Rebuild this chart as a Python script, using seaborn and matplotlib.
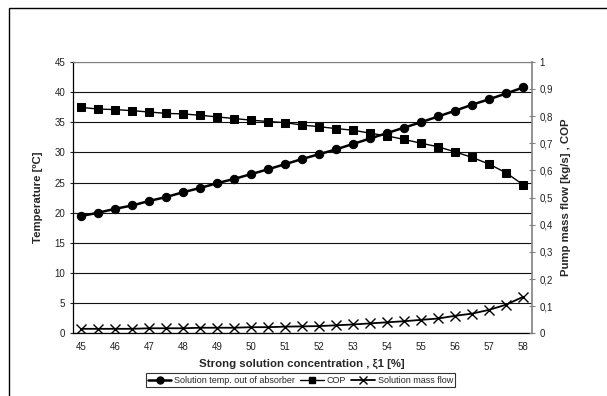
import matplotlib
matplotlib.use("Agg")
import matplotlib.pyplot as plt
import seaborn as sns
import numpy as np
import pandas as pd
from matplotlib.lines import Line2D
from matplotlib.patches import Rectangle

# ---- data ----
concentration = [45, 45.5, 46, 46.5, 47, 47.5, 48, 48.5, 49, 49.5, 50, 50.5, 51, 51.5,
                 52, 52.5, 53, 53.5, 54, 54.5, 55, 55.5, 56, 56.5, 57, 57.5, 58]
temperature = [19.45, 20.0, 20.65, 21.2, 21.95, 22.6, 23.4, 24.1, 24.9, 25.6, 26.4, 27.2, 28.05,
               28.9, 29.7, 30.5, 31.4, 32.3, 33.2, 34.1, 35.0, 35.95, 36.9, 37.9, 38.8, 39.75, 40.75]
cop = [0.832, 0.826, 0.824, 0.820, 0.815, 0.810, 0.808, 0.803, 0.797, 0.791, 0.785, 0.780, 0.776,
       0.767, 0.761, 0.754, 0.748, 0.737, 0.727, 0.714, 0.700, 0.687, 0.668, 0.648, 0.623, 0.591, 0.547]
mass_flow = [0.017, 0.017, 0.017, 0.017, 0.019, 0.019, 0.019, 0.021, 0.021, 0.021, 0.023, 0.023, 0.025,
             0.026, 0.027, 0.030, 0.033, 0.037, 0.041, 0.045, 0.050, 0.055, 0.065, 0.073, 0.087, 0.106, 0.135]
x_tick_labels = ["45", "46", "47", "48", "49", "50", "51", "52", "53", "54", "55", "56", "57", "58"]
left_ticks = [0, 5, 10, 15, 20, 25, 30, 35, 40, 45]
right_ticks = [0, 0.1, 0.2, 0.3, 0.4, 0.5, 0.6, 0.7, 0.8, 0.9, 1]

sns.set_style("white")
plt.rcParams['font.family'] = ['Liberation Sans', 'DejaVu Sans']

df = pd.DataFrame({"idx": np.arange(len(concentration)),
                   "temp": temperature, "cop": cop, "mass": mass_flow})

fig = plt.figure(figsize=(6.07, 3.96), dpi=100)
ax = fig.add_axes([0.12, 0.158, 0.756, 0.686])
ax2 = ax.twinx()

sns.lineplot(data=df, x="idx", y="temp", ax=ax, color="black", linewidth=1.8,
             marker="o", markersize=6, markeredgecolor="black", zorder=5)
sns.lineplot(data=df, x="idx", y="cop", ax=ax2, color="black", linewidth=1.0,
             marker="s", markersize=6, markeredgecolor="black", zorder=5)
sns.lineplot(data=df, x="idx", y="mass", ax=ax2, color="black", linewidth=1.3,
             marker="x", markersize=7, markeredgewidth=1.0, markeredgecolor="black", zorder=5)

n = len(concentration)
ax.set_xlim(-0.5, n - 0.5)
ax.set_ylim(0, 45)
ax2.set_ylim(0, 1)

# x ticks: crossing ticks between categories, labels every 2 categories
ax.set_xticks(np.arange(-0.5, n, 1.0))
ax.set_xticklabels([])
ax.set_xticks(np.arange(0, n, 2), minor=True)
ax.set_xticklabels(x_tick_labels, minor=True)
ax.tick_params(axis="x", which="major", direction="inout", length=5, width=0.8, color="black")
ax.tick_params(axis="x", which="minor", length=0, pad=6, labelsize=7, labelcolor="#222222")

ax.set_yticks(left_ticks)
ax.set_yticklabels([str(v) for v in left_ticks])
ax.tick_params(axis="y", direction="inout", length=5, width=0.8, labelsize=7,
               labelcolor="#222222", pad=3, left=True)
ax.yaxis.grid(True, color="#111111", linewidth=0.8)
ax.set_axisbelow(True)

ax2.set_yticks(right_ticks)
ax2.set_yticklabels(["0" if v == 0 else ("1" if v == 1 else f"{v:.1f}".replace(".", ",")) for v in right_ticks])
ax2.tick_params(axis="y", direction="inout", length=5, width=0.8, labelsize=7,
                labelcolor="#222222", pad=3, right=True, color="#808080")
ax2.grid(False)

for sp in ["left", "bottom"]:
    ax.spines[sp].set_color("black")
    ax.spines[sp].set_linewidth(0.9)
for sp in ["top", "right"]:
    ax.spines[sp].set_visible(False)
ax2.spines["left"].set_visible(False)
ax2.spines["bottom"].set_visible(False)
ax2.spines["top"].set_color("#808080")
ax2.spines["right"].set_color("#808080")
ax2.spines["right"].set_linewidth(1.2)

ax.set_xlabel("Strong solution concentration , ξ1 [%]", fontsize=8.2, fontweight="bold", labelpad=5)
ax.set_ylabel("Temperature [ºC]", fontsize=8.2, fontweight="bold", labelpad=8)
ax2.set_ylabel("Pump mass flow [kg/s] , COP", fontsize=8.2, fontweight="bold", labelpad=6)

handles = [Line2D([], [], color="black", lw=1.8, marker="o", markersize=5),
           Line2D([], [], color="black", lw=1.0, marker="s", markersize=5),
           Line2D([], [], color="black", lw=1.3, marker="x", markersize=6)]
labels = ["Solution temp. out of absorber", "COP", "Solution mass flow"]
leg = fig.legend(handles, labels, loc="center", bbox_to_anchor=(0.495, 0.04), ncol=3,
                 fontsize=6.5, frameon=True, fancybox=False, edgecolor="black",
                 handlelength=2.6, handletextpad=0.3, columnspacing=0.6,
                 borderpad=0.25, borderaxespad=0)
leg.get_frame().set_linewidth(0.8)

# outer chart border (extends beyond right/bottom edges)
fig.patches.append(Rectangle((9 / 607, -0.1), 1.2, 1 - 8 / 396 + 0.1, transform=fig.transFigure,
                             fill=False, edgecolor="black", linewidth=1.0))

fig.savefig("out.png", dpi=100)
